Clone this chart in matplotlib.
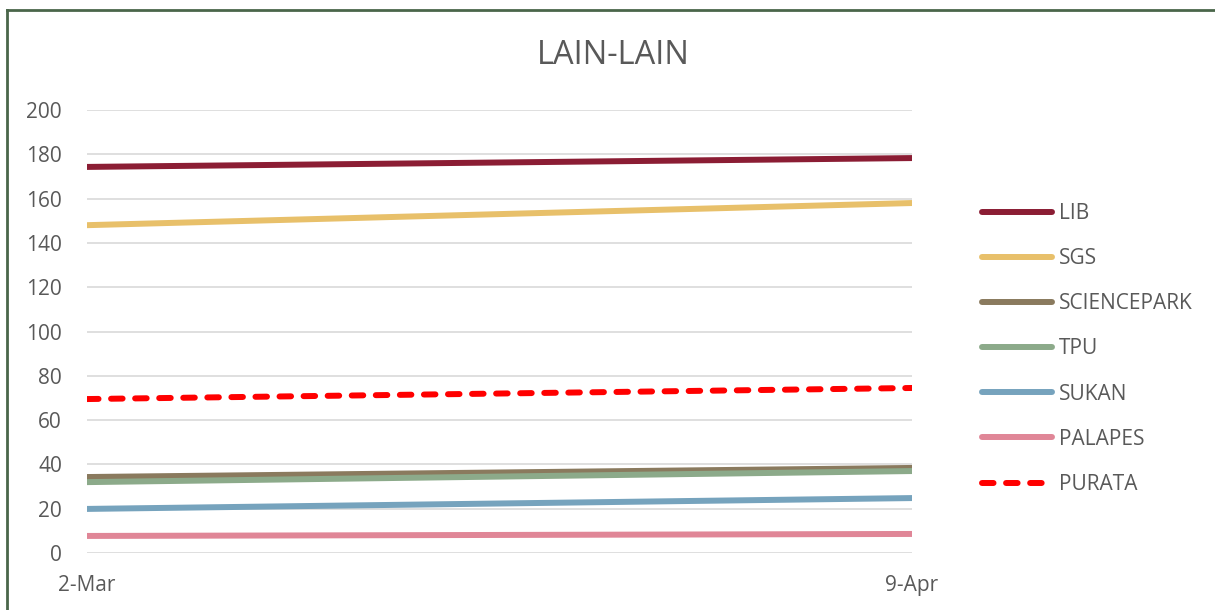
import matplotlib
matplotlib.use("Agg")
import matplotlib.pyplot as plt
from matplotlib.lines import Line2D

categories = ["2-Mar", "9-Apr"]
series_names = ["LIB", "SGS", "SCIENCEPARK", "TPU", "SUKAN", "PALAPES", "PURATA"]
lib = [174.3, 178.3]
sgs = [148, 158]
sciencepark = [34.3, 38.4]
tpu = [32, 37]
sukan = [19.9, 24.8]
palapes = [7.7, 8.6]
purata = [69.5, 74.5]
y_ticks = [0, 20, 40, 60, 80, 100, 120, 140, 160, 180, 200]

colors = ["#8B1D34", "#E8C06A", "#8A7A5E", "#8CAA8A", "#76A3BD", "#E08697", "#FF0000"]
values = [lib, sgs, sciencepark, tpu, sukan, palapes, purata]

plt.rcParams['font.family'] = ['Open Sans', 'DejaVu Sans']
text_color = "#595959"

fig = plt.figure(figsize=(12.15, 6.1), dpi=100)
ax = fig.add_axes([87/1215, 1-553/610, (912-87)/1215, (553-110)/610])

x = list(range(len(categories)))
for name, vals, c in zip(series_names, values, colors):
    if name == "PURATA":
        ax.plot(x, vals, color=c, lw=4.3, linestyle=(0, (1.93, 2.1)),
                dash_capstyle='round', solid_capstyle='round', label=name, zorder=3)
    else:
        ax.plot(x, vals, color=c, lw=4.3, solid_capstyle='round', label=name, zorder=3)

ax.set_xlim(0, 1)
ax.set_ylim(0, 200)
ax.set_yticks(y_ticks)
ax.set_xticks(x)
ax.set_xticklabels(categories)
ax.grid(axis='y', color='#D9D9D9', lw=1.2)
ax.set_axisbelow(True)
for s in ax.spines.values():
    s.set_visible(False)
ax.tick_params(axis='both', length=0, labelsize=15, colors=text_color)
ax.tick_params(axis='y', pad=18)
ax.tick_params(axis='x', pad=16)

fig.text(613/1215, 1-56/610, "LAIN-LAIN", ha='center', va='center',
         fontsize=23.5, color=text_color)

leg = fig.legend(loc='upper left', bbox_to_anchor=(974/1215, 1-194.5/610),
                 frameon=False, fontsize=15, handlelength=3.36,
                 handletextpad=0.3, labelspacing=1.16, labelcolor=text_color,
                 borderaxespad=0)

# chart border (top and left visible)
fig.add_artist(Line2D([7/1215, 1], [1-10/610, 1-10/610], color="#4A664A", lw=2,
                      transform=fig.transFigure))
fig.add_artist(Line2D([7/1215, 7/1215], [0, 1-10/610], color="#4A664A", lw=2,
                      transform=fig.transFigure))

fig.savefig("out.png", dpi=100)
